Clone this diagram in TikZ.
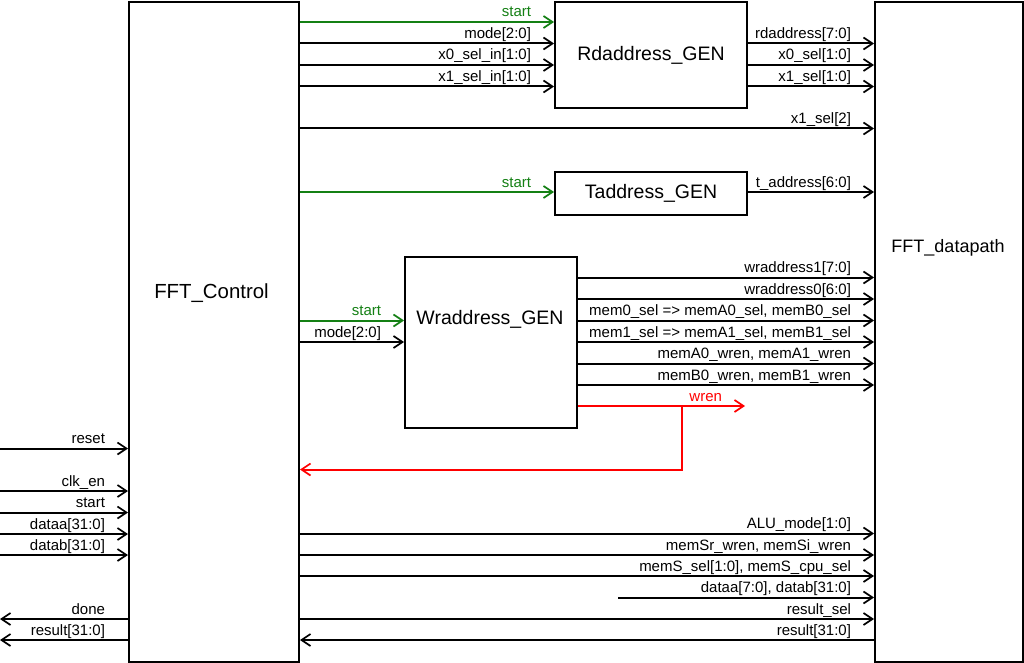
\documentclass[tikz,border=0pt]{standalone}
\usepackage{fontspec}
\setmainfont{Liberation Sans}
\usetikzlibrary{arrows.meta}
\definecolor{sgreen}{RGB}{20,128,20}
\definecolor{sred}{RGB}{255,0,0}
\newcommand{\lblfont}{\fontsize{15}{17}\selectfont}
\newcommand{\ttlfont}{\fontsize{19.5}{22}\selectfont}
\begin{document}
\begin{tikzpicture}[x=1pt,y=-1pt,
  box/.style={draw, line width=2pt, inner sep=0pt, anchor=north west, font=\ttlfont, fill=white},
  ttl/.style={inner sep=0pt, font=\ttlfont},
  sig/.style={line width=2pt, -{Straight Barb[length=9pt,width=12pt,line width=1.7pt]}},
  lab/.style={pos=1, anchor=base east, inner sep=0pt, xshift=-22pt, yshift=5pt, font=\lblfont},
  labs/.style={pos=0, anchor=base east, inner sep=0pt, xshift=-22pt, yshift=5pt, font=\lblfont},
  gsig/.style={sig, color=sgreen},
  rsig/.style={sig, color=sred}
]
\useasboundingbox (0,0) rectangle (1024,663);
\fill[white] (0,0) rectangle (1024,663);

% blocks
\node[box, minimum width=170pt, minimum height=660pt] (ctrl) at (128,1) {};
\node[box, minimum width=148pt, minimum height=660pt] (dp) at (874,1) {};
\node[box, minimum width=192pt, minimum height=106pt] (rd) at (554,1) {Rdaddress\_GEN};
\node[box, minimum width=192pt, minimum height=43pt] (td) at (554,171) {Taddress\_GEN};
\node[box, minimum width=172pt, minimum height=171pt] (wr) at (404,256) {};
\node[ttl, font=\fontsize{20.4}{23}\selectfont] (ctrlt) at (211.5,293.5) {FFT\_Control};
\node[ttl, font=\fontsize{18}{21}\selectfont] (dpt) at (948,248) {FFT\_datapath};
\node[ttl] (wrt) at (490,319.5) {Wraddress\_GEN};

% Control -> Rdaddress_GEN
\draw[gsig] (ctrl.east |- 0,22) -- node[lab]{start} (rd.west |- 0,22);
\draw[sig] (ctrl.east |- 0,43.5) -- node[lab]{mode[2:0]} (rd.west |- 0,43.5);
\draw[sig] (ctrl.east |- 0,65) -- node[lab]{x0\_sel\_in[1:0]} (rd.west |- 0,65);
\draw[sig] (ctrl.east |- 0,86.5) -- node[lab]{x1\_sel\_in[1:0]} (rd.west |- 0,86.5);
\draw[sig] (ctrl.east |- 0,128.5) -- node[lab]{x1\_sel[2]} (dp.west |- 0,128.5);

% Rdaddress_GEN -> datapath
\draw[sig] (rd.east |- 0,43.5) -- node[lab]{rdaddress[7:0]} (dp.west |- 0,43.5);
\draw[sig] (rd.east |- 0,65) -- node[lab]{x0\_sel[1:0]} (dp.west |- 0,65);
\draw[sig] (rd.east |- 0,86.5) -- node[lab]{x1\_sel[1:0]} (dp.west |- 0,86.5);

% Taddress_GEN
\draw[gsig] (ctrl.east |- 0,192) -- node[lab]{start} (td.west |- 0,192);
\draw[sig] (td.east |- 0,192) -- node[lab]{t\_address[6:0]} (dp.west |- 0,192);

% Wraddress_GEN
\draw[gsig] (ctrl.east |- 0,320.5) -- node[lab]{start} (wr.west |- 0,320.5);
\draw[sig] (ctrl.east |- 0,342) -- node[lab]{mode[2:0]} (wr.west |- 0,342);
\draw[sig] (wr.east |- 0,277.5) -- node[lab]{wraddress1[7:0]} (dp.west |- 0,277.5);
\draw[sig] (wr.east |- 0,299) -- node[lab]{wraddress0[6:0]} (dp.west |- 0,299);
\draw[sig] (wr.east |- 0,320.5) -- node[lab]{mem0\_sel => memA0\_sel, memB0\_sel} (dp.west |- 0,320.5);
\draw[sig] (wr.east |- 0,342) -- node[lab]{mem1\_sel => memA1\_sel, memB1\_sel} (dp.west |- 0,342);
\draw[sig] (wr.east |- 0,363.5) -- node[lab]{memA0\_wren, memA1\_wren} (dp.west |- 0,363.5);
\draw[sig] (wr.east |- 0,385) -- node[lab]{memB0\_wren, memB1\_wren} (dp.west |- 0,385);

% wren feedback
\coordinate (wrenend) at (745,406);
\coordinate (br) at (682,406);
\draw[rsig] (wr.east |- wrenend) -- node[lab]{wren} (wrenend);
\draw[rsig] (br) |- (ctrl.east |- 0,469.5);

% external inputs / outputs of FFT_Control
\coordinate (i1) at (0,448.5);
\coordinate (i2) at (0,491);
\coordinate (i3) at (0,512.5);
\coordinate (i4) at (0,534);
\coordinate (i5) at (0,555);
\coordinate (o1) at (0,619);
\coordinate (o2) at (0,640);
\draw[sig] (i1) -- node[lab]{reset} (ctrl.west |- i1);
\draw[sig] (i2) -- node[lab]{clk\_en} (ctrl.west |- i2);
\draw[sig] (i3) -- node[lab]{start} (ctrl.west |- i3);
\draw[sig] (i4) -- node[lab]{dataa[31:0]} (ctrl.west |- i4);
\draw[sig] (i5) -- node[lab]{datab[31:0]} (ctrl.west |- i5);
\draw[sig] (ctrl.west |- o1) -- node[labs]{done} (o1);
\draw[sig] (ctrl.west |- o2) -- node[labs]{result[31:0]} (o2);

% Control <-> datapath bottom signals
\draw[sig] (ctrl.east |- 0,533.5) -- node[lab]{ALU\_mode[1:0]} (dp.west |- 0,533.5);
\draw[sig] (ctrl.east |- 0,555) -- node[lab]{memSr\_wren, memSi\_wren} (dp.west |- 0,555);
\draw[sig] (ctrl.east |- 0,576) -- node[lab]{memS\_sel[1:0], memS\_cpu\_sel} (dp.west |- 0,576);
\coordinate (dab) at (618,597.5);
\draw[sig] (dab) -- node[lab]{dataa[7:0], datab[31:0]} (dp.west |- dab);
\draw[sig] (ctrl.east |- 0,619) -- node[lab]{result\_sel} (dp.west |- 0,619);
\draw[sig] (dp.west |- 0,640) -- node[labs]{result[31:0]} (ctrl.east |- 0,640);
\end{tikzpicture}
\end{document}
